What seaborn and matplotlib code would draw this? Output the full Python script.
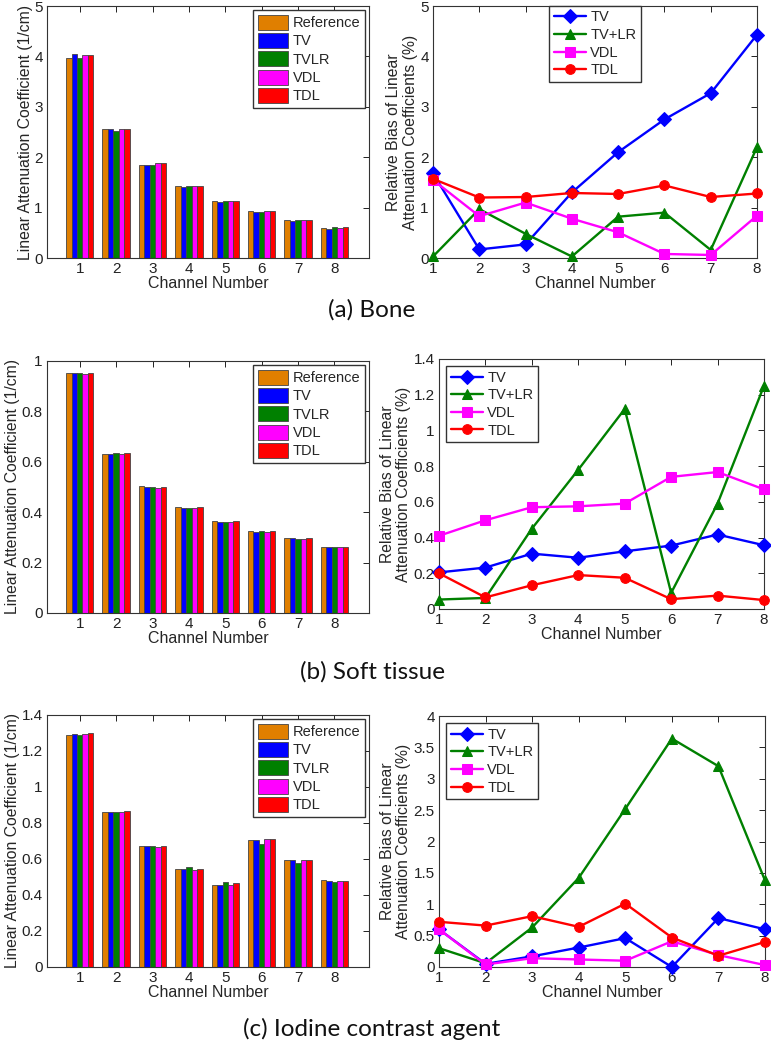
import numpy as np
import pandas as pd
import matplotlib
matplotlib.use("Agg")
import matplotlib.pyplot as plt
import seaborn as sns
from matplotlib.ticker import FuncFormatter, MultipleLocator

# ---------------- data ----------------
channels = [1, 2, 3, 4, 5, 6, 7, 8]
bar_methods = ["Reference", "TV", "TVLR", "VDL", "TDL"]
line_methods = ["TV", "TV+LR", "VDL", "TDL"]

# (a) Bone - linear attenuation coefficients (1/cm)
bone_reference = [3.97, 2.55, 1.85, 1.42, 1.13, 0.93, 0.75, 0.60]
bone_tv        = [4.04, 2.55, 1.85, 1.40, 1.11, 0.91, 0.74, 0.57]
bone_tvlr      = [3.97, 2.52, 1.84, 1.42, 1.13, 0.92, 0.75, 0.61]
bone_vdl       = [4.02, 2.55, 1.88, 1.43, 1.13, 0.93, 0.75, 0.60]
bone_tdl       = [4.02, 2.56, 1.88, 1.43, 1.13, 0.93, 0.76, 0.61]
# (a) Bone - relative bias (%)
bone_bias_tv   = [1.68, 0.17, 0.27, 1.30, 2.10, 2.75, 3.27, 4.43]
bone_bias_tvlr = [0.03, 0.97, 0.48, 0.03, 0.82, 0.90, 0.16, 2.20]
bone_bias_vdl  = [1.55, 0.83, 1.10, 0.78, 0.51, 0.08, 0.06, 0.84]
bone_bias_tdl  = [1.57, 1.20, 1.21, 1.29, 1.27, 1.44, 1.21, 1.28]

# (b) Soft tissue
soft_reference = [0.953, 0.632, 0.504, 0.420, 0.364, 0.325, 0.296, 0.263]
soft_tv        = [0.952, 0.630, 0.501, 0.417, 0.362, 0.323, 0.296, 0.263]
soft_tvlr      = [0.953, 0.633, 0.501, 0.417, 0.360, 0.326, 0.293, 0.261]
soft_vdl       = [0.950, 0.631, 0.498, 0.417, 0.362, 0.323, 0.293, 0.261]
soft_tdl       = [0.953, 0.633, 0.501, 0.420, 0.364, 0.326, 0.296, 0.263]
soft_bias_tv   = [0.205, 0.232, 0.310, 0.287, 0.323, 0.355, 0.417, 0.357]
soft_bias_tvlr = [0.053, 0.062, 0.450, 0.780, 1.120, 0.090, 0.590, 1.250]
soft_bias_vdl  = [0.410, 0.497, 0.570, 0.575, 0.590, 0.740, 0.767, 0.670]
soft_bias_tdl  = [0.200, 0.065, 0.133, 0.190, 0.175, 0.055, 0.075, 0.050]

# (c) Iodine contrast agent
iod_reference = [1.290, 0.862, 0.670, 0.543, 0.458, 0.708, 0.597, 0.481]
iod_tv        = [1.296, 0.862, 0.670, 0.543, 0.458, 0.708, 0.592, 0.478]
iod_tvlr      = [1.291, 0.862, 0.673, 0.553, 0.470, 0.682, 0.577, 0.474]
iod_vdl       = [1.296, 0.862, 0.668, 0.541, 0.458, 0.712, 0.592, 0.480]
iod_tdl       = [1.300, 0.868, 0.673, 0.546, 0.464, 0.712, 0.592, 0.480]
iod_bias_tv   = [0.60, 0.05, 0.17, 0.31, 0.46, 0.00, 0.78, 0.60]
iod_bias_tvlr = [0.30, 0.06, 0.63, 1.42, 2.52, 3.64, 3.20, 1.38]
iod_bias_vdl  = [0.60, 0.04, 0.14, 0.12, 0.10, 0.41, 0.19, 0.03]
iod_bias_tdl  = [0.72, 0.66, 0.81, 0.64, 1.01, 0.47, 0.18, 0.40]

captions = ["(a) Bone", "(b) Soft tissue", "(c) Iodine contrast agent"]

# ---------------- style ----------------
bar_colors = {"Reference": "#E07F00", "TV": "#0000FF", "TVLR": "#008000",
              "VDL": "#FF00FF", "TDL": "#FF0000"}
line_colors = {"TV": "#0000FF", "TV+LR": "#008000", "VDL": "#FF00FF", "TDL": "#FF0000"}
line_markers = {"TV": "D", "TV+LR": "^", "VDL": "s", "TDL": "o"}

sns.set_theme(style="white")
plt.rcParams["font.family"] = ["Liberation Sans", "DejaVu Sans"]
plt.rcParams["axes.edgecolor"] = "#333333"
plt.rcParams["axes.linewidth"] = 0.8

W, H = 771, 1050
fig = plt.figure(figsize=(W / 100, H / 100), dpi=100)


def frac(x0, y0, x1, y1):
    return [x0 / W, 1 - y1 / H, (x1 - x0) / W, (y1 - y0) / H]


fmt = FuncFormatter(lambda v, p: ("%g" % round(v, 6)))


def style_axes(ax):
    ax.tick_params(direction="in", top=True, right=True, length=4, width=0.7,
                   labelsize=11, colors="#222222", pad=3)
    for s in ax.spines.values():
        s.set_visible(True)
        s.set_color("#333333")
    ax.yaxis.set_major_formatter(fmt)
    ax.set_xlabel("Channel Number", fontsize=11.5, labelpad=0)


def bar_panel(rect, series, ylim, ystep):
    ax = fig.add_axes(rect)
    df = pd.DataFrame({
        "Channel": np.tile(channels, len(bar_methods)),
        "Method": np.repeat(bar_methods, len(channels)),
        "Value": np.concatenate(series),
    })
    sns.barplot(data=df, x="Channel", y="Value", hue="Method", hue_order=bar_methods,
                palette=bar_colors, native_scale=True, width=0.75, errorbar=None,
                edgecolor="#444444", linewidth=0.6, saturation=1, ax=ax)
    ax.set_xlim(0.1, 8.95)
    ax.set_ylim(*ylim)
    ax.yaxis.set_major_locator(MultipleLocator(ystep))
    ax.set_xticks(channels)
    ax.set_xticklabels([str(c) for c in channels])
    style_axes(ax)
    ax.set_ylabel("Linear Attenuation Coefficient (1/cm)", fontsize=11.3, labelpad=1)
    leg = ax.get_legend()
    handles = leg.legend_handles
    labels = [t.get_text() for t in leg.get_texts()]
    for h in handles:
        h.set_edgecolor("#444444")
        h.set_linewidth(0.6)
    ax.legend(handles, labels, loc="upper right", fontsize=10.5, frameon=True,
              fancybox=False, edgecolor="#333333", framealpha=1,
              handlelength=2.1, handleheight=1.2, handletextpad=0.3,
              labelspacing=0.2, borderpad=0.3, borderaxespad=0.3)
    return ax


def line_panel(rect, series, ylim, ystep, loc, pad):
    ax = fig.add_axes(rect)
    df = pd.DataFrame({
        "Channel": np.tile(channels, len(line_methods)),
        "Method": np.repeat(line_methods, len(channels)),
        "Value": np.concatenate(series),
    })
    sns.lineplot(data=df, x="Channel", y="Value", hue="Method", style="Method",
                 hue_order=line_methods, style_order=line_methods,
                 palette=line_colors, markers=line_markers, dashes=False,
                 linewidth=1.7, markersize=7, ax=ax)
    for ln in ax.lines:
        ln.set_markeredgecolor(ln.get_color())
        ln.set_markerfacecolor(ln.get_color())
        ln.set_clip_on(False)
        ln.set_zorder(3)
    ax.set_xlim(1, 8)
    ax.set_ylim(*ylim)
    ax.yaxis.set_major_locator(MultipleLocator(ystep))
    ax.set_xticks(channels)
    style_axes(ax)
    ax.set_ylabel("Relative Bias of Linear\nAttenuation Coefficients (%)",
                  fontsize=11.3, labelpad=2, linespacing=1.1)
    leg = ax.get_legend()
    handles = leg.legend_handles
    labels = [t.get_text() for t in leg.get_texts()]
    for h in handles:
        c = h.get_color()
        h.set_markeredgecolor(c)
        h.set_markerfacecolor(c)
        h.set_linewidth(1.7)
        h.set_markersize(7)
    legend = ax.legend(handles, labels, loc=loc, fontsize=10.5, frameon=True,
                       fancybox=False, edgecolor="#333333", framealpha=1,
                       handlelength=2.2, handletextpad=0.3,
                       labelspacing=0.25, borderpad=0.3, borderaxespad=pad)
    legend.set_zorder(5)
    return ax


# (a) Bone
bar_panel(frac(47, 6, 369, 258),
          [bone_reference, bone_tv, bone_tvlr, bone_vdl, bone_tdl], (0, 5), 1)
line_panel(frac(433, 6, 757, 258),
           [bone_bias_tv, bone_bias_tvlr, bone_bias_vdl, bone_bias_tdl], (0, 5), 1,
           "upper center", 0.0)

# (b) Soft tissue
bar_panel(frac(47, 361, 369, 613),
          [soft_reference, soft_tv, soft_tvlr, soft_vdl, soft_tdl], (0, 1), 0.2)
line_panel(frac(439, 359, 764, 609),
           [soft_bias_tv, soft_bias_tvlr, soft_bias_vdl, soft_bias_tdl], (0, 1.4), 0.2,
           "upper left", 0.5)

# (c) Iodine contrast agent
bar_panel(frac(47, 715, 369, 967),
          [iod_reference, iod_tv, iod_tvlr, iod_vdl, iod_tdl], (0, 1.4), 0.2)
line_panel(frac(439, 716, 765, 967),
           [iod_bias_tv, iod_bias_tvlr, iod_bias_vdl, iod_bias_tdl], (0, 4), 0.5,
           "upper left", 0.5)

# captions
for cap, yb in zip(captions, [317, 679, 1036]):
    fig.text(372 / W, 1 - yb / H, cap, ha="center", va="baseline",
             fontsize=17.5, family=["Lato", "DejaVu Sans"], color="#111111")

fig.savefig("out.png", dpi=100)
